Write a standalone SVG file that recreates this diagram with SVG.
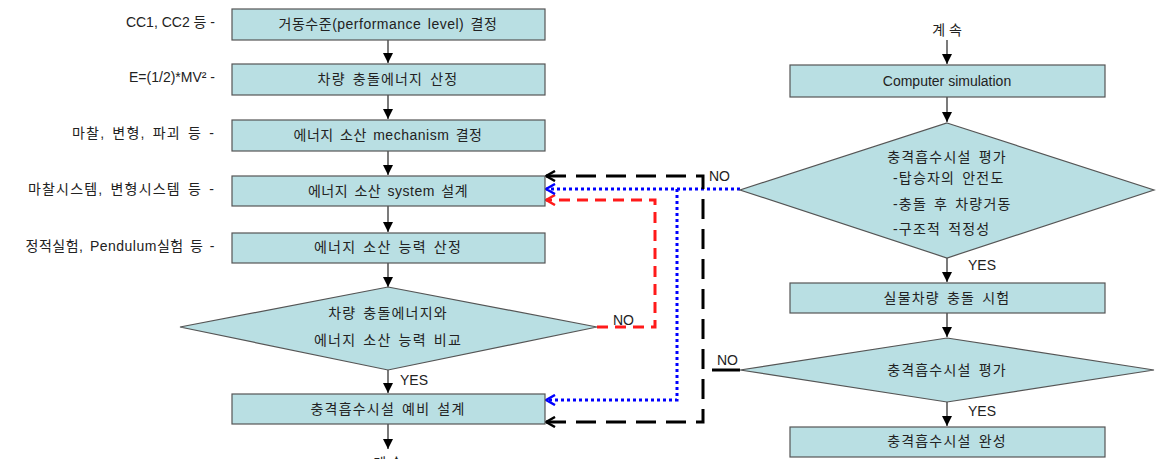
<svg xmlns="http://www.w3.org/2000/svg" width="1156" height="459" viewBox="0 0 1156 459">
<style>
text{font-family:"Liberation Sans","Noto Sans CJK KR",sans-serif;font-size:14px;fill:#222}
.k{letter-spacing:1.2px;word-spacing:2px}
.m{letter-spacing:0.5px;word-spacing:2px}
.c{text-anchor:middle}
.r{text-anchor:end}
.box{fill:#b9dfe3;stroke:#555;stroke-width:1.2}
.ln{stroke:#333;stroke-width:1.3;fill:none}
.red{stroke:#ff1a1a;stroke-width:3;fill:none;stroke-dasharray:11 7}
.blue{stroke:#0000ff;stroke-width:3;fill:none;stroke-dasharray:3 3}
.blk{stroke:#000;stroke-width:3;fill:none;stroke-dasharray:20 10}
</style>
<defs>
<marker id="ah" viewBox="0 0 10 10" refX="10" refY="5" markerWidth="10" markerHeight="10" markerUnits="userSpaceOnUse" orient="auto"><path d="M0,0 L10,5 L0,10 Z" fill="#000"/></marker>
<marker id="ahk" viewBox="0 0 12 12" refX="11" refY="6" markerWidth="12" markerHeight="12" markerUnits="userSpaceOnUse" orient="auto-start-reverse"><path d="M2,1 L11,6 L2,11" fill="none" stroke="#000" stroke-width="2.5"/></marker>
<marker id="ahr" viewBox="0 0 12 12" refX="11" refY="6" markerWidth="12" markerHeight="12" markerUnits="userSpaceOnUse" orient="auto"><path d="M2,1 L11,6 L2,11" fill="none" stroke="#ff1a1a" stroke-width="2.5"/></marker>
<marker id="ahb" viewBox="0 0 12 12" refX="11" refY="6" markerWidth="12" markerHeight="12" markerUnits="userSpaceOnUse" orient="auto"><path d="M2,1 L11,6 L2,11" fill="none" stroke="#0000ff" stroke-width="2.5"/></marker>
</defs>

<g id="connectors">
<path class="ln" d="M388,40 V63" marker-end="url(#ah)"/>
<path class="ln" d="M388,95 V119" marker-end="url(#ah)"/>
<path class="ln" d="M388,151 V175" marker-end="url(#ah)"/>
<path class="ln" d="M388,206 V232" marker-end="url(#ah)"/>
<path class="ln" d="M388,263 V287" marker-end="url(#ah)"/>
<path class="ln" d="M388,370 V393" marker-end="url(#ah)"/>
<path class="ln" d="M388,424 V449" marker-end="url(#ah)"/>
<path class="ln" d="M947,40 V64" marker-end="url(#ah)"/>
<path class="ln" d="M947,97 V122" marker-end="url(#ah)"/>
<path class="ln" d="M947,258 V282" marker-end="url(#ah)"/>
<path class="ln" d="M947,313 V337" marker-end="url(#ah)"/>
<path class="ln" d="M947,402 V426" marker-end="url(#ah)"/>
<path class="red" d="M597,327 H655 V200 H546" marker-end="url(#ahr)"/>
<path class="blue" d="M740,189 H546" marker-end="url(#ahb)"/>
<path class="blue" d="M677,189 V400 H546" marker-end="url(#ahb)"/>
<path class="blk" d="M546,176 H703 V422 H546" marker-start="url(#ahk)" marker-end="url(#ahk)"/>
<path d="M712,370 H740" stroke="#000" stroke-width="3" fill="none"/>
<text x="709" y="181">NO</text>
<text x="613" y="325">NO</text>
<text x="400" y="385">YES</text>
<text x="717" y="365">NO</text>
<text x="968" y="270">YES</text>
<text x="968" y="416">YES</text>
</g>

<g id="n1"><rect class="box" x="232" y="9" width="313" height="31"/><text class="c m" x="388" y="29">거동수준(performance level) 결정</text></g>
<g id="l1"><text class="r" x="215" y="27">CC1, CC2 등  -</text></g>
<g id="n2"><rect class="box" x="232" y="64" width="313" height="31"/><text class="c k" x="388" y="84">차량 충돌에너지 산정</text></g>
<g id="l2"><text class="r" x="215" y="82">E=(1/2)*MV² -</text></g>
<g id="n3"><rect class="box" x="232" y="120" width="313" height="31"/><text class="c m" x="388" y="140">에너지 소산 mechanism 결정</text></g>
<g id="l3"><text class="r k" x="215" y="138">마찰, 변형, 파괴 등 -</text></g>
<g id="n4"><rect class="box" x="232" y="176" width="313" height="30"/><text class="c m" x="388" y="196">에너지 소산 system 설계</text></g>
<g id="l4"><text class="r k" x="215" y="194">마찰시스템, 변형시스템 등 -</text></g>
<g id="n5"><rect class="box" x="232" y="233" width="313" height="30"/><text class="c k" x="388" y="252">에너지 소산 능력 산정</text></g>
<g id="l5"><text class="r m" x="215" y="251">정적실험, Pendulum실험 등 -</text></g>
<g id="d1"><polygon class="box" points="388,287 597,327 388,370 180,327"/><text class="c k" x="388" y="318">차량 충돌에너지와</text><text class="c k" x="388" y="345">에너지 소산 능력 비교</text></g>
<g id="n6"><rect class="box" x="232" y="394" width="313" height="30"/><text class="c k" x="388" y="414">충격흡수시설 예비 설계</text></g>
<g id="cont1"><text class="c" x="388" y="468">계 속</text></g>

<g id="cont2"><text class="c" x="947" y="35">계 속</text></g>
<g id="r1"><rect class="box" x="790" y="65" width="315" height="32"/><text class="c" x="947" y="86">Computer simulation</text></g>
<g id="rd1"><polygon class="box" points="947,123 1154,190 947,258 740,190"/>
<text class="c k" x="947" y="162">충격흡수시설 평가</text>
<text class="k" x="893" y="183">-탑승자의 안전도</text>
<text class="k" x="893" y="209">-충돌 후 차량거동</text>
<text class="k" x="893" y="234">-구조적 적정성</text></g>
<g id="r2"><rect class="box" x="790" y="283" width="315" height="30"/><text class="c k" x="947" y="303">실물차량 충돌 시험</text></g>
<g id="rd2"><polygon class="box" points="947,338 1154,370 947,402 740,370"/><text class="c k" x="947" y="375">충격흡수시설 평가</text></g>
<g id="r3"><rect class="box" x="790" y="427" width="315" height="30"/><text class="c k" x="947" y="446">충격흡수시설 완성</text></g>
</svg>
